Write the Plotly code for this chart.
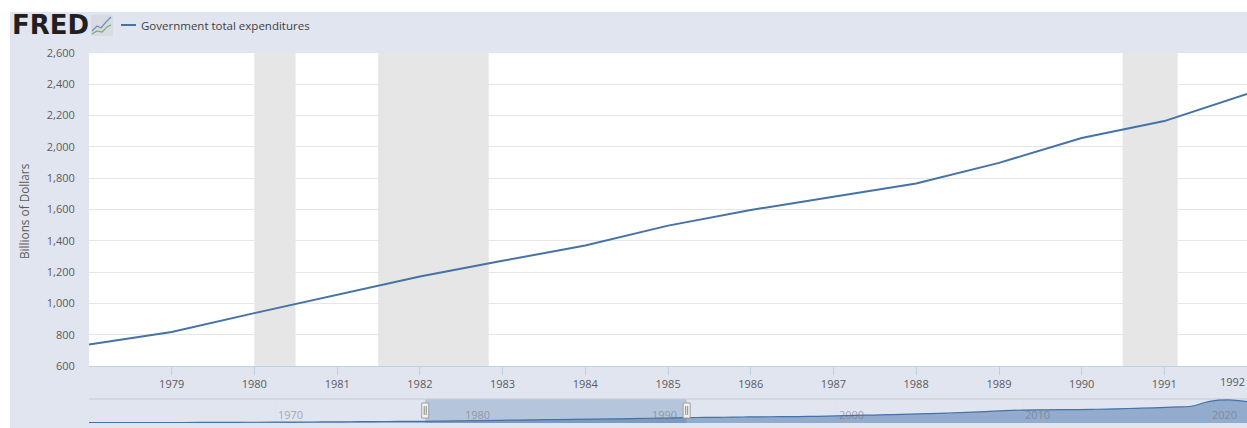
import plotly.graph_objects as go

W, H = 1247, 428
years = list(range(1978, 1993))
expenditures = [737, 817, 938, 1055, 1172, 1272, 1370, 1497, 1597, 1682, 1766, 1898, 2057, 2165, 2338]
early_years = list(range(1960, 1978))
early_values = [150, 162, 175, 185, 195, 212, 240, 275, 305, 330, 370, 405, 440, 480, 540, 610, 655, 700]
late_years = list(range(1993, 2023))
late_values = [2420, 2500, 2590, 2670, 2730, 2800, 2900, 3050, 3270, 3450, 3640, 3850, 4100, 4330, 4600,
               4950, 5350, 5600, 5700, 5760, 5800, 5950, 6150, 6350, 6550, 6900, 7250, 9400, 10000, 9300]
recessions = [("1980-01-01", "1980-07-01"), ("1981-07-01", "1982-11-01"), ("1990-07-01", "1991-03-01")]
main_ticks = list(range(1979, 1992))
nav_labels = [1970, 1980, 1990, 2000, 2010, 2020]
legend_label = "Government total expenditures"
y_title = "Billions of Dollars"

BG, LINE, TEXT = "#e1e5f0", "#4572a7", "#5c5c5c"
AXIS = "#c0d0e0"
def d(y): return f"{y}-01-01"
def px(x): return x / W
def py(y): return 1 - y / H

fig = go.Figure()
fig.add_trace(go.Scatter(x=[d(y) for y in years], y=expenditures, mode="lines", name=legend_label,
                         line=dict(color=LINE, width=2), xaxis="x", yaxis="y", showlegend=False,
                         hovertemplate="%{x|%Y}: %{y:,.0f}<extra></extra>"))
all_years = early_years + years + late_years
all_values = early_values + expenditures + late_values
fig.add_trace(go.Scatter(x=[d(y) for y in all_years], y=all_values, mode="lines", fill="tozeroy",
                         fillcolor="rgba(69,114,167,0.5)", line=dict(color=LINE, width=1.2, shape="spline"),
                         xaxis="x2", yaxis="y2", showlegend=False, hoverinfo="skip"))

shapes = [
    dict(type="rect", xref="paper", yref="paper", x0=px(10), x1=1, y0=0, y1=py(12), fillcolor=BG, line_width=0, layer="below"),
    dict(type="rect", xref="paper", yref="paper", x0=px(89), x1=1, y0=py(366), y1=py(53), fillcolor="white", line_width=0, layer="below"),
    dict(type="line", xref="paper", yref="paper", x0=px(89), x1=1, y0=py(399), y1=py(399), line=dict(color="#cfd2da", width=1.5), layer="below"),
    dict(type="rect", xref="x2", yref="paper", x0=d(1978), x1=d(1992), y0=py(423), y1=py(399.5),
         fillcolor="rgba(69,114,167,0.28)", line_width=0, layer="below"),
    dict(type="line", xref="paper", yref="paper", x0=px(121), x1=px(136), y0=py(25), y1=py(25), line=dict(color=LINE, width=2)),
    dict(type="rect", xref="paper", yref="paper", x0=px(91), x1=px(113), y0=py(36), y1=py(15), fillcolor="#d7dbe4", line_width=0),
    dict(type="path", xref="paper", yref="paper",
         path="M %f %f L %f %f L %f %f L %f %f L %f %f" % (px(92), py(31), px(97), py(26), px(101), py(28), px(106), py(22), px(111), py(17)),
         line=dict(color="#6f8fb5", width=1.2)),
    dict(type="path", xref="paper", yref="paper",
         path="M %f %f L %f %f L %f %f L %f %f L %f %f" % (px(92), py(34), px(97), py(31), px(102), py(32), px(107), py(27), px(111), py(25)),
         line=dict(color="#84a86f", width=1.2)),
]
for a, b in recessions:
    shapes.append(dict(type="rect", xref="x", yref="paper", x0=a, x1=b, y0=py(366), y1=py(53),
                       fillcolor="#e6e6e6", line_width=0, layer="below"))
for yr in (1978, 1992):
    shapes.append(dict(type="rect", xref="x2", xsizemode="pixel", xanchor=d(yr), x0=-3.5, x1=3.5,
                       yref="paper", y0=py(418), y1=py(403), fillcolor="#f2f2f2", line=dict(color="#a0a0a0", width=1)))
    for off in (-1, 1):
        shapes.append(dict(type="line", xref="x2", xsizemode="pixel", xanchor=d(yr), x0=off, x1=off,
                           yref="paper", y0=py(415), y1=py(406), line=dict(color="#8a8a8a", width=1)))

annotations = [
    dict(text="FRED", xref="paper", yref="paper", x=px(10), y=py(25.5), xanchor="left", yanchor="middle", showarrow=False,
         font=dict(family="DejaVu Sans", size=26, color="#231f20", weight="bold")),
    dict(text=legend_label, xref="paper", yref="paper", x=px(139), y=py(25), xanchor="left", yanchor="middle", showarrow=False,
         font=dict(family="Open Sans", size=11.5, color="#3f3f3f")),
    dict(text=y_title, xref="paper", yref="paper", x=px(24), y=py(211), xanchor="center", yanchor="middle", showarrow=False,
         textangle=-90, font=dict(family="Open Sans", size=11.8, color=TEXT)),
    dict(text="1992", xref="x", yref="paper", x=d(1992), y=py(381), xanchor="right", yanchor="middle", showarrow=False,
         font=dict(family="Open Sans", size=11, color=TEXT)),
]
for yr in nav_labels:
    annotations.append(dict(text=str(yr), xref="x2", yref="paper", x=d(yr), xshift=15, y=py(414), xanchor="center",
                            yanchor="middle", showarrow=False, font=dict(family="Open Sans", size=11, color="rgba(110,110,110,0.55)")))

fig.update_layout(
    width=W, height=H, margin=dict(l=0, r=0, t=0, b=0, autoexpand=False), autosize=False,
    paper_bgcolor="white", plot_bgcolor="rgba(0,0,0,0)", showlegend=False,
    font=dict(family="Open Sans", size=11, color=TEXT), shapes=shapes, annotations=annotations,
    xaxis=dict(domain=[px(89), 1], anchor="y", type="date", range=[d(1978), d(1992)], tickmode="array",
               tickvals=[d(y) for y in main_ticks], ticktext=[str(y) for y in main_ticks], automargin=False,
               ticks="outside", ticklen=8, tickcolor=AXIS, tickwidth=1, showline=True, linecolor=AXIS, linewidth=1,
               showgrid=False, zeroline=False),
    yaxis=dict(domain=[py(366), py(53)], anchor="x", range=[600, 2600], dtick=200, tickformat=",", automargin=False,
               ticks="outside", ticklen=11, tickcolor="rgba(0,0,0,0)", gridcolor="#e6e6e6", gridwidth=1,
               showline=False, zeroline=False),
    xaxis2=dict(domain=[px(89), 1], anchor="y2", type="date", range=[d(1960), d(2022)], dtick="M120", tick0=d(1960), automargin=False,
                showticklabels=False, ticks="", showgrid=True, gridcolor="rgba(190,198,215,0.12)", showline=False, zeroline=False),
    yaxis2=dict(domain=[py(423), py(399)], anchor="x2", range=[0, 10400], showticklabels=False, ticks="", automargin=False,
                showgrid=False, showline=False, zeroline=False),
)
fig.write_html("out.html", config=dict(displayModeBar=False),
               post_script="document.documentElement.style.margin='0';document.body.style.margin='0';"
                           "document.body.style.padding='0';document.body.style.overflow='hidden';")
